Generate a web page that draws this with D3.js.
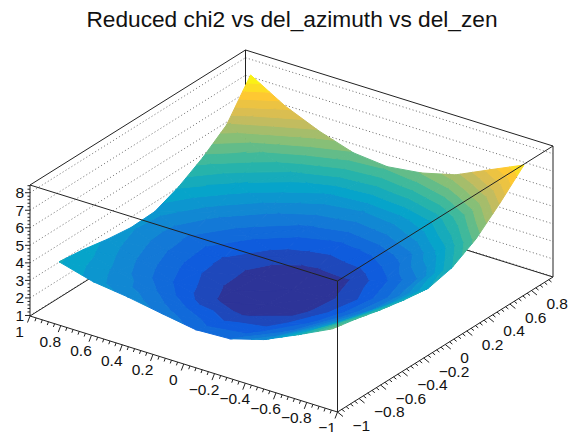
<!DOCTYPE html>
<html><head><meta charset="utf-8">
<script src="https://cdn.jsdelivr.net/npm/d3@7"></script>
<style>html,body{margin:0;padding:0;background:#fff}svg{display:block}text{font-family:"Liberation Sans",Arial,sans-serif;fill:#111}</style>
</head><body><svg id="c" width="568" height="432"></svg>
<script>
const titleText = "Reduced chi2 vs del_azimuth vs del_zen";
const xCenters = [0.889,0.667,0.444,0.222,0,-0.222,-0.444,-0.667,-0.889];
const yCenters = [-0.889,-0.667,-0.444,-0.222,0,0.222,0.444,0.667,0.889];
const chi2Row0 = [3.94,3.41,3.16,2.82,2.50,2.59,3.15,4.04,4.98];
const chi2Row1 = [3.77,3.15,2.70,2.30,2.05,2.15,2.70,3.60,4.70];
const chi2Row2 = [3.50,2.85,2.25,1.72,1.62,1.80,2.35,3.20,4.35];
const chi2Row3 = [3.32,2.65,2.00,1.50,1.38,1.55,2.10,2.85,4.07];
const chi2Row4 = [3.38,2.60,1.95,1.48,1.33,1.50,2.00,2.75,3.87];
const chi2Row5 = [3.94,3.05,2.40,1.75,1.58,1.65,2.20,2.95,4.20];
const chi2Row6 = [4.74,3.85,3.05,2.50,2.20,2.35,2.80,3.75,4.98];
const chi2Row7 = [5.76,4.90,4.10,3.45,3.25,3.40,3.90,4.90,6.17];
const chi2Row8 = [7.75,6.60,5.77,5.14,4.95,5.20,5.70,6.60,7.48];
const chi2Rows = [chi2Row0,chi2Row1,chi2Row2,chi2Row3,chi2Row4,chi2Row5,chi2Row6,chi2Row7,chi2Row8];
const birdR = [0.2082,0.0592,0.0780,0.0232,0.1802,0.5301,0.8186,0.9956,0.9764];
const birdG = [0.1664,0.3599,0.5041,0.6419,0.7178,0.7492,0.7328,0.7862,0.9832];
const birdB = [0.5293,0.8684,0.8385,0.7914,0.6425,0.4662,0.3499,0.1968,0.0539];
const levelCount = 20;
const tickX = [1,0.8,0.6,0.4,0.2,0,-0.2,-0.4,-0.6,-0.8,-1];
const tickY = [-1,-0.8,-0.6,-0.4,-0.2,0,0.2,0.4,0.6,0.8];
const tickZ = [1,2,3,4,5,6,7,8];

const xDom=[1,-1], yDom=[-1,1], zDom=[0.97,8.44];
const xToPx=d3.scaleLinear().domain(xDom).range([30,337.5]);
const yToPx=d3.scaleLinear().domain(yDom).range([0,215.5]);
const xToPy=d3.scaleLinear().domain(xDom).range([0,96]);
const yToPy=d3.scaleLinear().domain(yDom).range([0,-135]);
const zToPy=d3.scaleLinear().domain(zDom).range([316,185]);
const P=(x,y,z)=>[xToPx(x)+yToPx(y), xToPy(x)+yToPy(y)+zToPy(z)];

const allZ=chi2Rows.flat(), zMin=d3.min(allZ), zMax=d3.max(allZ);
const bandScale=d3.scaleLinear().domain([zMin,zMax]).range([0,levelCount]);
const stops=birdR.map((r,i)=>d3.rgb(r*255,birdG[i]*255,birdB[i]*255));
const bird=d3.scaleLinear().domain(stops.map((_,i)=>i/(stops.length-1))).range(stops).interpolate(d3.interpolateRgb);
const levelColor=k=>bird((k+0.5)/levelCount)+"";

const svg=d3.select("#c");
const line=d3.line();
const seg=(a,b,cls)=>svg.append("path").attr("d",line([a,b])).attr("fill","none")
  .attr("stroke",cls==="grid"?"#444":"#222").attr("stroke-width",cls==="grid"?0.8:1)
  .attr("stroke-dasharray",cls==="grid"?"1 2.5":null);

const [x0,x1]=xDom,[y0,y1]=yDom,[z0,z1]=zDom;
// back walls
tickZ.forEach(z=>{seg(P(x0,y0,z),P(x0,y1,z),"grid");seg(P(x0,y1,z),P(x1,y1,z),"grid");});
seg(P(x0,y0,z0),P(x0,y1,z0));seg(P(x0,y1,z0),P(x1,y1,z0));
seg(P(x0,y1,z0),P(x0,y1,z1));
seg(P(x0,y0,z1),P(x0,y1,z1));seg(P(x0,y1,z1),P(x1,y1,z1));
seg(P(x0,y0,z0),P(x0,y0,z1));seg(P(x1,y1,z0),P(x1,y1,z1));

// surface
function clip(poly,level,keepAbove){
  const out=[];
  poly.forEach((a,i)=>{
    const b=poly[(i+1)%poly.length];
    const ia=keepAbove?a[2]>=level:a[2]<=level, ib=keepAbove?b[2]>=level:b[2]<=level;
    if(ia) out.push(a);
    if(ia!==ib){const t=(level-a[2])/(b[2]-a[2]);out.push([a[0]+t*(b[0]-a[0]),a[1]+t*(b[1]-a[1]),level]);}
  });
  return out;
}
const polys=[];
for(let i=0;i<xCenters.length-1;i++){
  for(let j=yCenters.length-2;j>=0;j--){
    const v=(a,b)=>[xCenters[a],yCenters[b],chi2Rows[b][a]];
    const tris=[[v(i,j+1),v(i,j),v(i+1,j+1)],[v(i+1,j+1),v(i,j),v(i+1,j)]];
    tris.forEach(tri=>{
      for(let k=0;k<levelCount;k++){
        const lo=bandScale.invert(k),hi=bandScale.invert(k+1);
        let p=clip(tri,lo,true); if(p.length<3)continue;
        p=clip(p,hi,false); if(p.length<3)continue;
        polys.push({d:line(p.map(q=>P(q[0],q[1],q[2])))+"Z",c:levelColor(k)});
      }
    });
  }
}
svg.append("g").selectAll("path").data(polys).join("path")
  .attr("d",d=>d.d).attr("fill",d=>d.c).attr("stroke",d=>d.c).attr("stroke-width",1).attr("stroke-linejoin","round");

// front box
seg(P(x0,y0,z1),P(x1,y0,z1));seg(P(x1,y0,z1),P(x1,y1,z1));
seg(P(x1,y0,z0),P(x1,y0,z1));
seg(P(x0,y0,z0),P(x1,y0,z0));seg(P(x1,y0,z0),P(x1,y1,z0));

const lab=(s,x,y,anchor,size)=>svg.append("text").attr("x",x).attr("y",y).attr("text-anchor",anchor)
  .attr("dominant-baseline","central").attr("font-size",size).text(s);
const fmt=t=>(t<0?"\u2212":"")+Math.abs(t);
// x axis
d3.range(0,51).forEach(n=>{
  const t=1-n*0.04,p=P(t,y0,z0),maj=n%5===0;
  seg(p,[p[0]-(maj?2.5:1.2),p[1]+(maj?6.5:3.3)]);
});
tickX.forEach(t=>{const p=P(t,y0,z0);lab(fmt(t),p[0]-10.5,p[1]+15.5,"middle",15.5);});
// y axis
d3.range(0,50).forEach(n=>{
  const t=-1+n*0.04,p=P(x1,t,z0),maj=n%5===0;
  seg(p,[p[0]+(maj?5.5:2.8),p[1]+(maj?4.5:2.3)]);
});
tickY.forEach(t=>{const p=P(x1,t,z0);lab(fmt(t),p[0]+15,p[1]+13,"start",15.5);});
// z axis
d3.range(1,8.41,0.2).forEach((t,n)=>{
  const p=P(x0,y0,t),maj=n%5===0;
  seg(p,[p[0]-(maj?5:2.5),p[1]]);
});
tickZ.forEach(t=>{const p=P(x0,y0,t);lab(fmt(t),p[0]-6,p[1],"end",15.5);});

svg.append("text").attr("x",292).attr("y",27).attr("text-anchor","middle").attr("font-size",22.7).text(titleText);
</script></body></html>
